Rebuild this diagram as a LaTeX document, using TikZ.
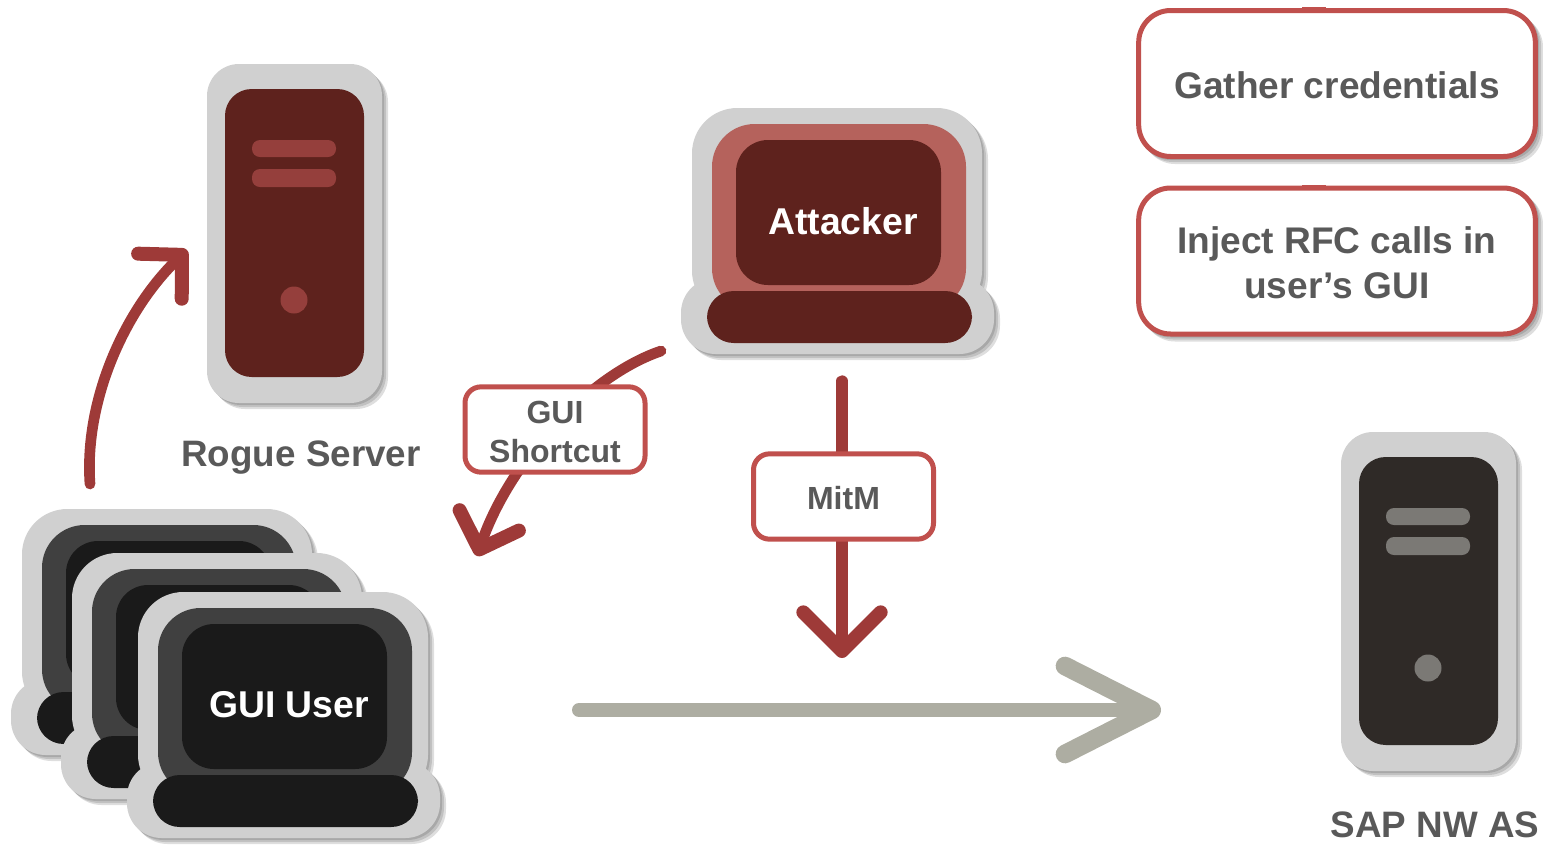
\documentclass[tikz,border=0pt]{standalone}
\usepackage{fontspec}
\setmainfont{Liberation Sans}
\usepackage{tikz}
\usetikzlibrary{arrows.meta}

\definecolor{casegrey}{HTML}{D0D0D0}
\definecolor{maroondark}{HTML}{5E221D}
\definecolor{maroonmid}{HTML}{B5625C}
\definecolor{maroonbar}{HTML}{953F3C}
\definecolor{coaldark}{HTML}{1A1A1A}
\definecolor{coalmid}{HTML}{404040}
\definecolor{towerdark}{HTML}{2F2A27}
\definecolor{towerbar}{HTML}{7B7975}
\definecolor{arrowred}{HTML}{9E3A38}
\definecolor{arrowgrey}{HTML}{ADADA2}
\definecolor{boxred}{HTML}{C0504D}
\definecolor{textgrey}{HTML}{595959}

\tikzset{
	redarrow/.style={draw=arrowred,line width=8.5pt,line cap=round,-{Straight Barb[length=29pt,width=58pt,round,line width=10.5pt]}},
	curvedarrow/.style={draw=arrowred,line width=8pt,line cap=round,-{Straight Barb[length=23pt,width=47pt,round,line width=10.5pt]}},
	greyarrow/.style={draw=arrowgrey,line width=10.5pt,line cap=round,-{Straight Barb[length=65pt,width=66pt,round,line width=14pt]}},
	labelbox/.style={draw=boxred,line width=3.75pt,fill=white,rounded corners=12pt,align=center,text=textgrey,inner sep=0pt,minimum width=135pt,minimum height=64pt,font=\bfseries\fontsize{24}{29.5}\selectfont},
	notebox/.style={labelbox,rounded corners=24pt,minimum width=297.5pt,minimum height=109.5pt,font=\bfseries\fontsize{27.8}{34}\selectfont},
	caption/.style={text=textgrey,inner sep=0pt,font=\bfseries\fontsize{27.6}{34}\selectfont},
	screentext/.style={text=white,inner sep=0pt,font=\bfseries\fontsize{28}{34}\selectfont},
	softshadow/.style={black,opacity=0.13},
}

% #1,#2: shift, #3: dark colour, #4: screen rim colour
\newcommand{\workstation}[4]{
	\begin{scope}[shift={(#1,#2)}]
		%Shadow
		\foreach \d in {2,4,6}{
			\fill [softshadow,rounded corners=34pt,shift={(\d,\d)}] (138,592) rectangle (428,800);
			\fill [softshadow,rounded corners=26pt,shift={(\d,\d)}] (127,762) rectangle (440,838);
		}
		%Case
		\fill [casegrey,rounded corners=34pt] (138,592) rectangle (428,800);
		\fill [casegrey,rounded corners=26pt] (127,762) rectangle (440,838);
		%Screen
		\fill [#4,rounded corners=32pt] (158,608) rectangle (412,795);
		\fill [#3,rounded corners=24pt] (182,624) rectangle (387,769);
		%Keyboard
		\fill [#3,rounded corners=20pt] (153,775) rectangle (418,827);
	\end{scope}
}

% #1,#2: shift, #3: body colour, #4: bar colour
\newcommand{\towercase}[4]{
	\begin{scope}[shift={(#1,#2)}]
		%Shadow
		\foreach \d in {2,4,6}{
			\fill [softshadow,rounded corners=24pt,shift={(\d,\d)}] (207,64) rectangle (382,403);
		}
		\fill [casegrey,rounded corners=24pt] (207,64) rectangle (382,403);
		\fill [#3,rounded corners=20pt] (225,89) rectangle (364,377);
		\fill [#4,rounded corners=6pt] (252,140) rectangle (336,157);
		\fill [#4,rounded corners=6pt] (252,169) rectangle (336,187);
		\fill [#4] (294,300) circle (13.5);
	\end{scope}
}

\begin{document}
\begin{tikzpicture}[x=0.75pt,y=0.75pt,yscale=-1,xscale=1]
	\useasboundingbox (0,0) rectangle (1543,844);

	%Computers
	\workstation{-116}{-83}{coaldark}{coalmid}
	\workstation{-66}{-39}{coaldark}{coalmid}
	\workstation{0}{0}{coaldark}{coalmid}
	\workstation{554}{-484}{maroondark}{maroonmid}

	%Servers
	\towercase{0}{0}{maroondark}{maroonbar}
	\towercase{1134}{368}{towerdark}{towerbar}

	%Free ends of the arrows
	\coordinate (uploadstart) at (90,484);
	\coordinate (uploadend) at (187,250);
	\coordinate (shortcutstart) at (661,351);
	\coordinate (shortcutend) at (477,556);
	\coordinate (mitmstart) at (842,381);
	\coordinate (mitmend) at (842,658);
	\coordinate (trafficstart) at (579,710);
	\coordinate (trafficend) at (1161,710);

	%Arrows
	\draw [curvedarrow] (uploadstart) .. controls (84,400) and (125,310) .. (uploadend);
	\draw [curvedarrow] (shortcutstart) .. controls (590,375) and (510,460) .. (shortcutend);
	\draw [redarrow] (mitmstart) -- (mitmend);
	\draw [greyarrow] (trafficstart) -- (trafficend);

	% Text Node
	\node [labelbox] (shortcutbox) at (555,429.5) {\rule{0pt}{20pt}GUI\\Shortcut};
	% Text Node
	\node [labelbox] (mitmbox) at (843.5,496.5) {\rule{0pt}{19pt}MitM};

	%Shadows of the note boxes
	\foreach \y in {83.5,261}{
		\foreach \d in {2,4,6}{
			\fill [softshadow,rounded corners=24pt,shift={(\d,\d)}] (1137,\y-74.5) rectangle (1537,\y+74.5);
		}
	}
	% Text Node
	\node [notebox] (gatherbox) at (1337,83.5) {\rule{0pt}{23pt}Gather credentials};
	% Text Node
	\node [notebox] (injectbox) at (1337,261) {\rule{0pt}{23pt}Inject RFC calls in\\user’s GUI};
	\fill [boxred] (1302,7) rectangle (1326,12);
	\fill [boxred] (1302,185) rectangle (1326,190);

	% Text Node
	\node [caption] (roguelabel) at (301,458) {Rogue Server};
	% Text Node
	\node [caption] (saplabel) at (1435,824.5) {SAP NW AS};
	% Text Node
	\node [screentext] (attackerlabel) at (843,221) {Attacker};
	% Text Node
	\node [screentext] (guilabel) at (289,704.5) {GUI User};
\end{tikzpicture}
\end{document}
